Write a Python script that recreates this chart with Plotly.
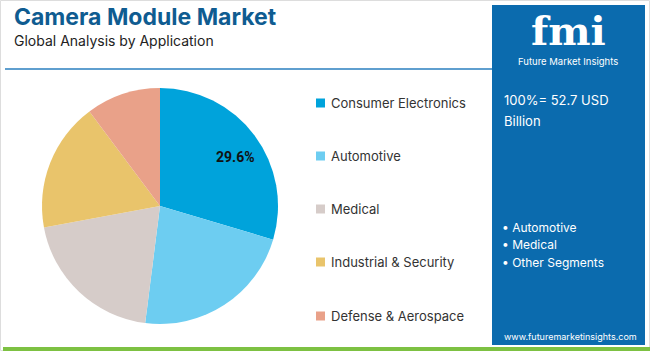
import plotly.graph_objects as go

categories = ["Consumer Electronics", "Automotive", "Medical", "Industrial & Security", "Defense & Aerospace"]
values = [29.6, 22.4, 20.1, 17.7, 10.2]
colors = ["#00A3DB", "#6DCDF1", "#D6CCC9", "#E9C46B", "#E9A189"]
title = "Camera Module Market"
subtitle = "Global Analysis by Application"
total_text = ["100%= 52.7 USD", "Billion"]
bullets = ["• Automotive", "• Medical", "• Other Segments"]

W, H = 650, 351
def px(x): return x / W
def py(y): return 1 - y / H

fig = go.Figure()
cx, cy, r = 160, 206, 118
fig.add_trace(go.Pie(
    labels=categories, values=values, sort=False, direction="clockwise", rotation=0,
    marker=dict(colors=colors, line=dict(width=0)),
    textinfo="none", showlegend=False, hoverinfo="label+percent",
    domain=dict(x=[px(cx - r), px(cx + r)], y=[py(cy + r), py(cy - r)]),
))

shapes = []
ann = []
# border
shapes.append(dict(type="rect", xref="paper", yref="paper", x0=px(0.5), x1=px(649.5), y0=py(350.5), y1=py(0.5),
                   line=dict(color="#DDDDDD", width=1), fillcolor="rgba(0,0,0,0)", layer="below"))
# green bottom bar
shapes.append(dict(type="rect", xref="paper", yref="paper", x0=px(3), x1=px(650), y0=py(351), y1=py(347),
                   line=dict(width=0), fillcolor="#7DC142"))
# right panel
shapes.append(dict(type="rect", xref="paper", yref="paper", x0=px(492), x1=px(645), y0=py(345), y1=py(5),
                   line=dict(width=0), fillcolor="#0B6BAE", layer="below"))
# title underline
shapes.append(dict(type="line", xref="paper", yref="paper", x0=px(5), x1=px(492), y0=py(69), y1=py(69),
                   line=dict(color="#2A7FBF", width=1.5)))

ann.append(dict(text=f"<b>{title}</b>", x=px(12), y=py(17), xanchor="left", yanchor="middle",
                font=dict(family="Inter", size=23, color="#0F5C91")))
ann.append(dict(text=subtitle, x=px(12), y=py(40), xanchor="left", yanchor="middle",
                font=dict(family="Inter", size=14, color="#222222")))

# pie label
ann.append(dict(text=f"<b>{values[0]}%</b>", x=px(235), y=py(157), xanchor="center", yanchor="middle",
                font=dict(family="Roboto", size=14, color="#111111")))

# legend
leg_y = [103, 156, 209, 262, 316]
for cat, col, yy in zip(categories, colors, leg_y):
    shapes.append(dict(type="rect", xref="paper", yref="paper", x0=px(316), x1=px(325), y0=py(yy + 4.5), y1=py(yy - 4.5),
                       line=dict(width=0), fillcolor=col))
    ann.append(dict(text=cat, x=px(329), y=py(yy), xanchor="left", yanchor="middle",
                    font=dict(family="Inter", size=13, color="#333333")))

# logo
ann.append(dict(text="<b>fmi</b>", x=px(568), y=py(30), xanchor="center", yanchor="middle",
                font=dict(family="DejaVu Serif", size=40, color="white")))
ann.append(dict(text="Future Market Insights", x=px(568), y=py(62), xanchor="center", yanchor="middle",
                font=dict(family="Inter", size=9.5, color="white")))

# panel text
ann.append(dict(text=total_text[0], x=px(502), y=py(100), xanchor="left", yanchor="middle",
                font=dict(family="Inter", size=13, color="white")))
ann.append(dict(text=total_text[1], x=px(502), y=py(121), xanchor="left", yanchor="middle",
                font=dict(family="Inter", size=13, color="white")))
for b, yy in zip(bullets, [227, 244.5, 262]):
    ann.append(dict(text=b, x=px(500), y=py(yy), xanchor="left", yanchor="middle",
                    font=dict(family="Inter", size=12, color="white")))
ann.append(dict(text="www.futuremarketinsights.com", x=px(570), y=py(336), xanchor="center", yanchor="middle",
                font=dict(family="Inter", size=9, color="white")))

for a in ann:
    a.update(xref="paper", yref="paper", showarrow=False)

fig.update_layout(width=W, height=H, margin=dict(l=0, r=0, t=0, b=0),
                  paper_bgcolor="white", plot_bgcolor="white",
                  shapes=shapes, annotations=ann)
fig.write_html("out.html")
